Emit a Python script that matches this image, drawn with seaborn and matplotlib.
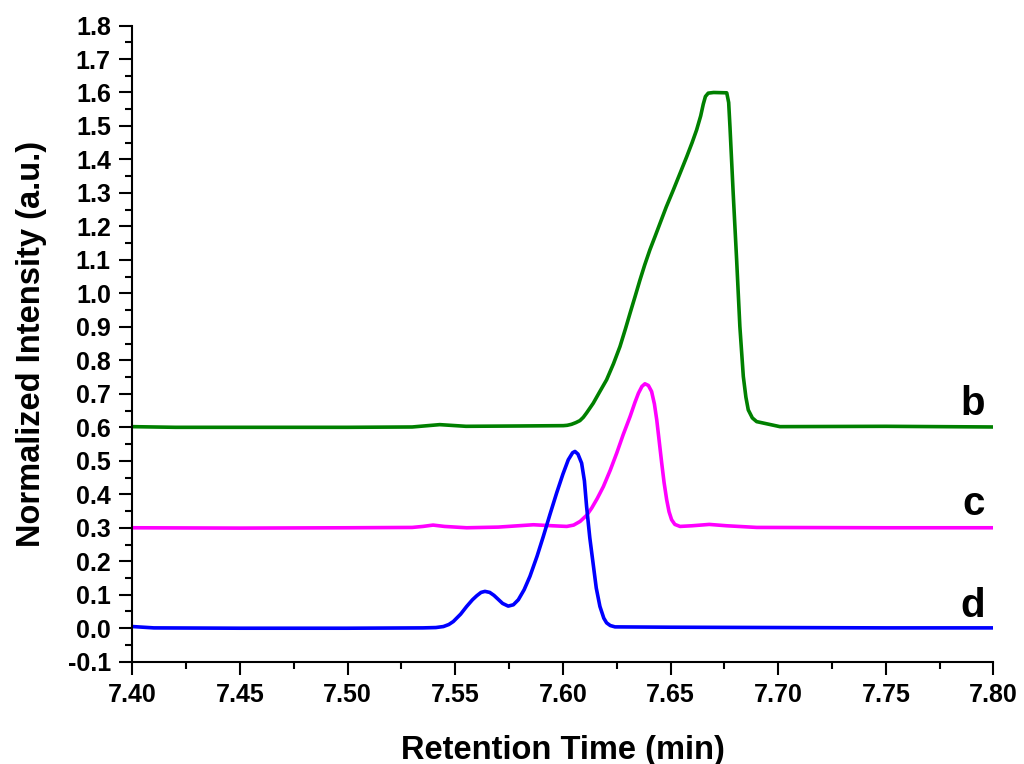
import pandas as pd
import seaborn as sns
import matplotlib.pyplot as plt
from matplotlib.ticker import MultipleLocator, FormatStrFormatter

time_d = [7.400, 7.410, 7.450, 7.500, 7.535, 7.541, 7.5445, 7.547, 7.5491, 7.5525,
          7.5553, 7.5580, 7.5600, 7.5620, 7.5638, 7.5660, 7.5680, 7.5700, 7.5720, 7.5746,
          7.5770, 7.5793, 7.5820, 7.5847, 7.5880, 7.5909, 7.5940, 7.5971, 7.6000, 7.6025,
          7.6045, 7.6056, 7.6070, 7.6087, 7.6100, 7.6110, 7.6125, 7.6140, 7.6155, 7.6172,
          7.6190, 7.6203, 7.6220, 7.6242, 7.650, 7.700, 7.750, 7.800]
int_d = [0.005, 0.001, 0.000, 0.000, 0.001, 0.002, 0.005, 0.011, 0.020, 0.042,
         0.065, 0.085, 0.097, 0.107, 0.110, 0.107, 0.098, 0.086, 0.074, 0.066,
         0.070, 0.085, 0.115, 0.155, 0.215, 0.274, 0.340, 0.404, 0.460, 0.503,
         0.524, 0.528, 0.520, 0.493, 0.440, 0.364, 0.270, 0.195, 0.120, 0.065,
         0.030, 0.016, 0.008, 0.004, 0.003, 0.002, 0.001, 0.001]

time_c = [7.400, 7.450, 7.500, 7.530, 7.535, 7.5397, 7.545, 7.5553, 7.570, 7.5863,
          7.595, 7.6018, 7.605, 7.608, 7.611, 7.6134, 7.616, 7.6188, 7.622, 7.625,
          7.628, 7.6312, 7.6335, 7.6351, 7.6367, 7.6381, 7.6397, 7.6412, 7.6425, 7.6436,
          7.6448, 7.6459, 7.647, 7.6482, 7.6493, 7.6505, 7.652, 7.6544, 7.660, 7.668,
          7.676, 7.690, 7.750, 7.800]
int_c = [0.300, 0.299, 0.300, 0.301, 0.304, 0.308, 0.304, 0.300, 0.302, 0.309,
         0.306, 0.304, 0.308, 0.319, 0.337, 0.359, 0.388, 0.423, 0.472, 0.523,
         0.578, 0.632, 0.675, 0.702, 0.722, 0.730, 0.725, 0.707, 0.670, 0.622,
         0.555, 0.493, 0.435, 0.384, 0.348, 0.324, 0.310, 0.304, 0.306, 0.310,
         0.306, 0.301, 0.300, 0.300]

time_b = [7.400, 7.420, 7.500, 7.530, 7.5428, 7.555, 7.580, 7.6002, 7.602, 7.604,
          7.606, 7.6079, 7.6095, 7.611, 7.6125, 7.6141, 7.617, 7.6203, 7.6235, 7.6265,
          7.629, 7.6312, 7.6335, 7.6358, 7.638, 7.6404, 7.6428, 7.6451, 7.648, 7.6513,
          7.6545, 7.6575, 7.660, 7.6621, 7.664, 7.6652, 7.6662, 7.6675, 7.670, 7.6761,
          7.677, 7.6776, 7.6791, 7.6807, 7.6822, 7.6838, 7.685, 7.6861, 7.688, 7.690,
          7.7008, 7.750, 7.800]
int_b = [0.602, 0.600, 0.600, 0.601, 0.608, 0.603, 0.604, 0.605, 0.606, 0.609,
         0.614, 0.620, 0.630, 0.643, 0.657, 0.672, 0.705, 0.742, 0.790, 0.841,
         0.893, 0.941, 0.990, 1.040, 1.085, 1.130, 1.170, 1.209, 1.258, 1.309,
         1.360, 1.408, 1.450, 1.488, 1.530, 1.565, 1.588, 1.598, 1.600, 1.599,
         1.570, 1.498, 1.299, 1.100, 0.901, 0.752, 0.690, 0.652, 0.628, 0.617,
         0.602, 0.603, 0.601]

trace_names = ["b", "c", "d"]
trace_colors = ["#008000", "#FF00FF", "#0000FF"]
label_y = [0.637, 0.339, 0.034]

df = pd.concat([
    pd.DataFrame({"time": time_b, "intensity": int_b, "trace": "b"}),
    pd.DataFrame({"time": time_c, "intensity": int_c, "trace": "c"}),
    pd.DataFrame({"time": time_d, "intensity": int_d, "trace": "d"}),
], ignore_index=True)

sns.set_style("ticks")
plt.rcParams["font.family"] = ["Liberation Sans", "DejaVu Sans"]
plt.rcParams["font.weight"] = "bold"
plt.rcParams["axes.labelweight"] = "bold"
plt.rcParams["axes.unicode_minus"] = False
for key in ["text.color", "axes.labelcolor", "xtick.color", "ytick.color",
            "xtick.labelcolor", "ytick.labelcolor", "axes.edgecolor"]:
    plt.rcParams[key] = "black"

fig = plt.figure(figsize=(10.24, 7.64), dpi=100)
ax = fig.add_axes([0.1292, 0.1339, 0.8410, 0.8327])

sns.lineplot(
    data=df, x="time", y="intensity", hue="trace",
    palette=dict(zip(trace_names, trace_colors)),
    sort=False, estimator=None, legend=False, linewidth=2.6, ax=ax
)
for line in ax.get_lines():
    line.set_solid_joinstyle("round")
    line.set_solid_capstyle("round")

for name, yy in zip(trace_names, label_y):
    ax.text(7.796, yy, name, ha="right", va="baseline",
            fontsize=29, fontweight="bold", color="black")

ax.set_xlim(7.40, 7.80)
ax.set_ylim(-0.1, 1.8)
ax.xaxis.set_major_locator(MultipleLocator(0.05))
ax.xaxis.set_minor_locator(MultipleLocator(0.025))
ax.yaxis.set_major_locator(MultipleLocator(0.1))
ax.yaxis.set_minor_locator(MultipleLocator(0.05))
ax.xaxis.set_major_formatter(FormatStrFormatter("%.2f"))
ax.yaxis.set_major_formatter(FormatStrFormatter("%.1f"))

ax.tick_params(which="major", direction="out", length=9.5, width=1.5,
               labelsize=18, pad=6, color="black", labelcolor="black")
ax.tick_params(which="minor", direction="out", length=4.7, width=1.5, color="black")
for lab in ax.get_xticklabels() + ax.get_yticklabels():
    lab.set_fontweight("bold")

sns.despine(ax=ax)
for side in ["left", "bottom"]:
    ax.spines[side].set_linewidth(1.5)
    ax.spines[side].set_color("black")

ax.set_xlabel("Retention Time (min)", fontsize=23.5, fontweight="bold", labelpad=20)
ax.set_ylabel("Normalized Intensity (a.u.)", fontsize=23.5, fontweight="bold", labelpad=15)

plt.savefig("out.png", dpi=100)
